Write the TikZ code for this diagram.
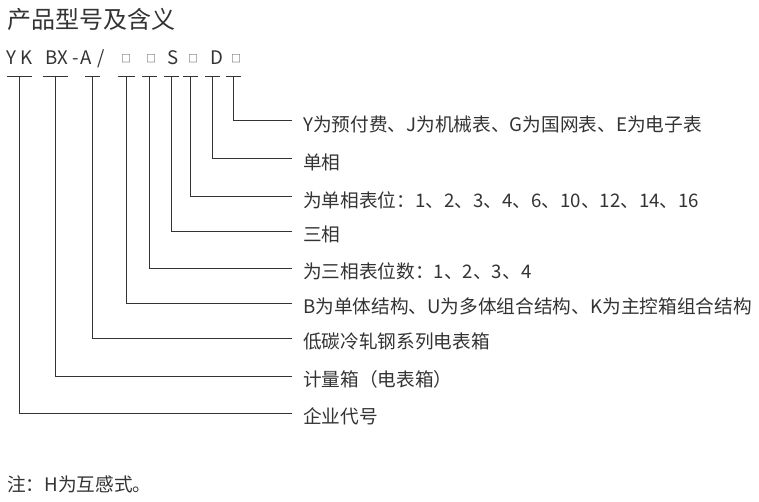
\documentclass[tikz,border=0pt]{standalone}
\usepackage{fontspec}
\setmainfont{Noto Sans CJK SC}
\usetikzlibrary{positioning}
\definecolor{Ink}{HTML}{333333}

\begin{document}
\begin{tikzpicture}[x=0.75pt,y=-0.75pt,
    head/.style={anchor=west,inner sep=0pt,font=\fontsize{18}{20}\selectfont,text=Ink},
    desc/.style={anchor=west,inner sep=0pt,font=\fontsize{14}{16}\selectfont,text=Ink},
    code/.style={anchor=base,inner sep=0pt,font=\fontsize{14}{16}\selectfont,text=Ink},
    slot/.style={anchor=base,inner sep=0pt,font=\fontsize{7.5}{8}\selectfont,text=Ink},
    lead/.style={Ink,line width=0.75pt}
  ]
    \useasboundingbox (0,0) rectangle (759,502);
    \node[head] (title) at (7,19) {产品型号及含义};
    % model code, one glyph at a time
    \foreach \n/\x/\c in {y/11.5/Y,k/27/K,b/51.5/B,x/62.5/X,a/86/A}
      \node[code] (c\n) at (\x,64.5) {\c};
    \node[code] (cdash) at (75.5,64.5) {-};
    \node[code] (cslash) at (101,64.5) {/};
    \node[code] (cs) at (173,64.5) {S};
    \node[code] (cd) at (217,64.5) {D};
    \foreach \n/\x in {1/126,2/151,3/193,4/236}
      \node[slot] (s\n) at (\x,63) {□};
    % legend lines
    \foreach \n/\x/\w/\y/\txt in {
        1/233.5/7.5/121/{Y为预付费、J为机械表、G为国网表、E为电子表},
        2/212.5/7.5/159/{单相},
        3/190.5/7.5/197/{为单相表位：1、2、3、4、6、10、12、14、16},
        4/171/7.5/231/{三相},
        5/149.5/7.5/268/{为三相表位数：1、2、3、4},
        6/126/8.5/303/{B为单体结构、U为多体组合结构、K为主控箱组合结构},
        7/92.5/7.5/338/{低碳冷轧钢系列电表箱},
        8/55/12.5/376/{计量箱（电表箱）},
        9/19.5/12.5/413/{企业代号}}{
      \coordinate (t\n) at (\x,77);
      \coordinate (e\n) at (292,\y);
      \draw[lead] (\x-\w,77) -- (\x+\w,77);
      \node[desc] (d\n) at (303,\y+3) {\txt};
      \draw[lead] (t\n) |- (e\n);
    }
    \node[desc] (note) at (7,484) {注：H为互感式。};
  \end{tikzpicture}
\end{document}
